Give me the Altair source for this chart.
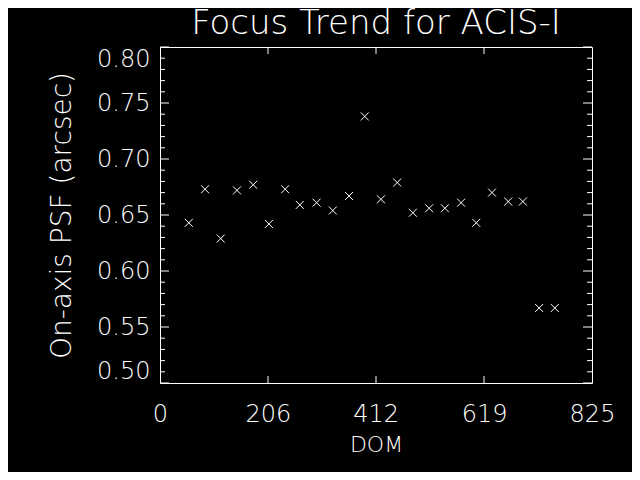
import altair as alt
import pandas as pd

# Data
dom = [55, 86, 116, 147, 178, 208, 239, 267, 299, 330, 361, 391,
       422, 453, 483, 514, 544, 575, 604, 634, 665, 693, 724, 754]
psf = [0.643, 0.673, 0.629, 0.672, 0.677, 0.642, 0.673, 0.659, 0.661, 0.654,
       0.667, 0.738, 0.664, 0.679, 0.652, 0.656, 0.656, 0.661, 0.643, 0.670,
       0.662, 0.662, 0.567, 0.567]

x_tick_labels = [0, 206, 412, 619, 825]
x_inner_ticks = [206.25, 412.5, 618.75]
y_major = [0.50, 0.55, 0.60, 0.65, 0.70, 0.75, 0.80]
y_minor = [round(0.50 + 0.01 * i, 2) for i in range(31) if i % 5 != 0]

W, H = 432, 336
FONT = "DejaVu Sans"
WEIGHT = 200

pts = pd.DataFrame({"dom": dom, "psf": psf})
ymaj = pd.DataFrame({"psf": y_major})
ymin = pd.DataFrame({"psf": y_minor})
xin = pd.DataFrame({"dom": x_inner_ticks})

xscale = alt.Scale(domain=[0, 825], nice=False, zero=False)
yscale = alt.Scale(domain=[0.5, 0.8], nice=False, zero=False)

cross = "M-1,-1L1,1M-1,1L1,-1"

xaxis = alt.Axis(
    title="DOM", values=x_tick_labels, format="d", ticks=False, tickSize=0,
    domain=False, grid=False, labelColor="white", labelFont=FONT,
    labelFontSize=24, labelFontWeight=WEIGHT, labelBaseline="alphabetic",
    labelPadding=38, labelFlush=False, labelBound=False,
    titleColor="white", titleFont=FONT, titleFontSize=22,
    titleFontWeight=WEIGHT, titleBaseline="alphabetic", titleY=68,
    labelOverlap=False)
yaxis = alt.Axis(
    title="On-axis PSF (arcsec)", values=y_major, format=".2f",
    ticks=False, tickSize=0, domain=False, grid=False,
    labelColor="white", labelFont=FONT, labelFontSize=24,
    labelFontWeight=WEIGHT, labelPadding=10, labelFlush=True,
    labelOverlap=False, titleColor="white", titleFont=FONT, titleFontSize=28,
    titleFontWeight=WEIGHT, titleBaseline="alphabetic", titleX=-90,
    titleY=H / 2)

points = alt.Chart(pts).mark_point(
    shape=cross, filled=False, stroke="white", strokeWidth=1, size=64, opacity=1
).encode(
    x=alt.X("dom:Q", scale=xscale, axis=xaxis),
    y=alt.Y("psf:Q", scale=yscale, axis=yaxis),
)

def yrule(df, x0, x1):
    return alt.Chart(df).mark_rule(color="white", strokeWidth=1).encode(
        y=alt.Y("psf:Q", scale=yscale),
        x=alt.value(x0), x2=alt.value(x1))

def xrule(df, y0, y1):
    return alt.Chart(df).mark_rule(color="white", strokeWidth=1).encode(
        x=alt.X("dom:Q", scale=xscale),
        y=alt.value(y0), y2=alt.value(y1))

chart = alt.layer(
    points,
    yrule(ymaj, 0, 9), yrule(ymaj, W - 9, W),
    yrule(ymin, 0, 5), yrule(ymin, W - 5, W),
    xrule(xin, H - 7, H), xrule(xin, 0, 7),
).properties(
    width=W, height=H,
    title=alt.TitleParams("Focus Trend for ACIS-I", color="white", font=FONT,
                          fontSize=34, fontWeight=WEIGHT, anchor="middle",
                          frame="group", offset=6),
    padding={"left": 152, "top": 39, "right": 40, "bottom": 89},
    autosize="none",
).configure(background="black").configure_view(stroke="white", strokeWidth=1)

chart.save("out.html", embed_options={"renderer": "svg", "actions": False})
